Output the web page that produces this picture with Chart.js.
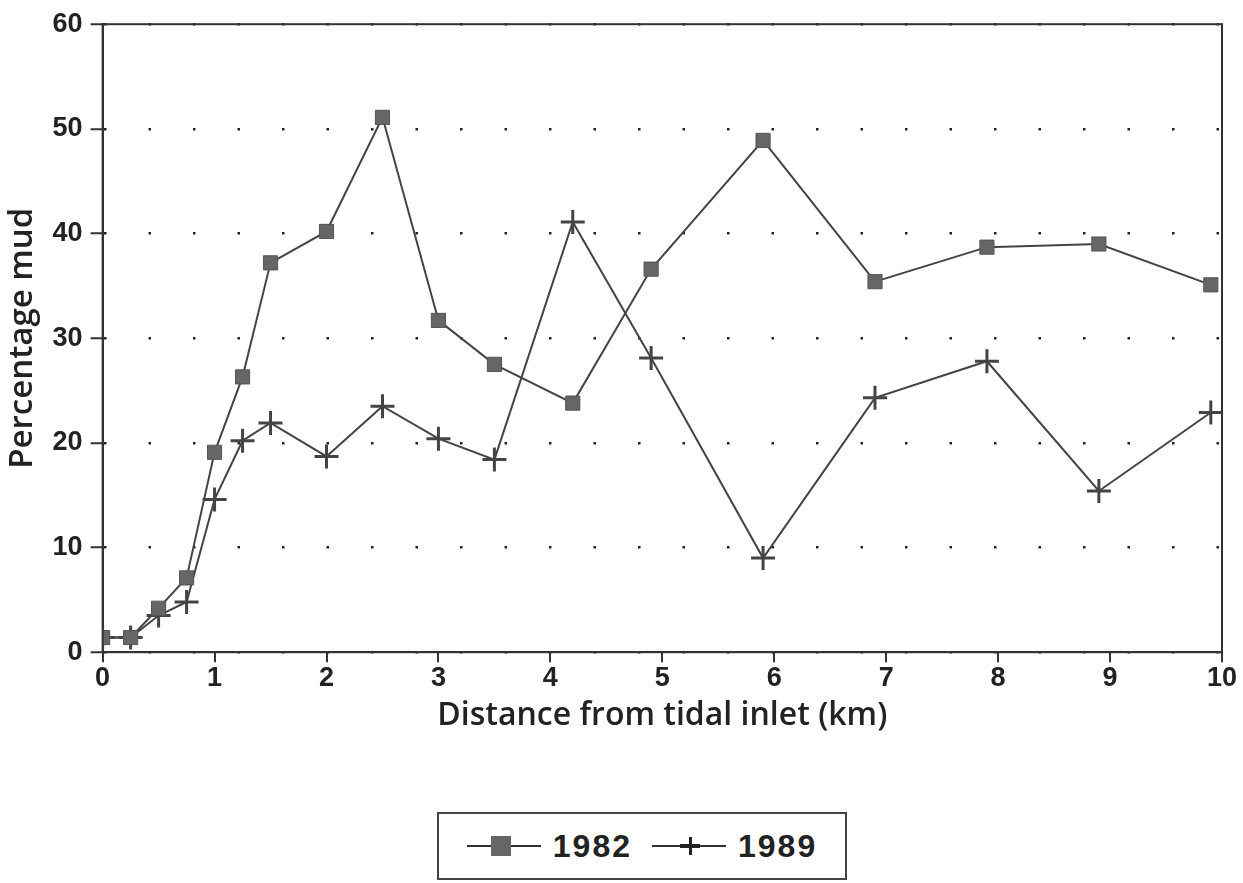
<!DOCTYPE html>
<html>
<head>
<meta charset="utf-8">
<script src="https://cdn.jsdelivr.net/npm/chart.js@4/dist/chart.umd.min.js"></script>
<style>
    html, body { margin: 0; padding: 0; background: #fff; }
    .wrap { position: absolute; left: 0; top: 0; width: 1243px; height: 735px; }
    .legend-box {
        position: absolute; left: 437px; top: 812px; width: 406px; height: 64px;
        border: 2px solid #444; display: flex; align-items: center; justify-content: center;
        font-family: "Liberation Sans", Arial, sans-serif; font-weight: bold; font-size: 32px; color: #222;
        letter-spacing: 2px;
    }
    .key { position: relative; display: inline-block; width: 74px; height: 24px; margin-right: 12px; }
    .key .ln { position: absolute; left: 0; right: 0; top: 11px; height: 2px; background: #333; }
    .key .sq { position: absolute; left: 24px; top: 2px; width: 20px; height: 20px; background: #666; }
    .key .pv { position: absolute; left: 37px; top: 3px; width: 3px; height: 18px; background: #222; }
    .key .ph { position: absolute; left: 28px; top: 10px; width: 20px; height: 4px; background: #222; }
    .gap { display: inline-block; width: 20px; }
</style>
</head>
<body>
<div class="wrap"><canvas id="mudChart"></canvas></div>
<div class="legend-box">
    <span class="key"><span class="ln"></span><span class="sq"></span></span><span>1982</span>
    <span class="gap"></span>
    <span class="key"><span class="ln"></span><span class="pv"></span><span class="ph"></span></span><span>1989</span>
</div>
<script>
// distance from tidal inlet (km)
const distances = [0, 0.25, 0.5, 0.75, 1.0, 1.25, 1.5, 2.0, 2.5, 3.0, 3.5, 4.2, 4.9, 5.9, 6.9, 7.9, 8.9, 9.9];
// percentage mud
const mud1982 = [1.4, 1.4, 4.2, 7.1, 19.1, 26.3, 37.2, 40.2, 51.1, 31.7, 27.5, 23.8, 36.6, 48.9, 35.4, 38.7, 39.0, 35.1];
const mud1989 = [1.4, 1.4, 3.5, 4.8, 14.6, 20.2, 21.9, 18.7, 23.5, 20.4, 18.4, 41.1, 28.1, 9.0, 24.3, 27.8, 15.4, 22.9];

const xTicks = [0, 1, 2, 3, 4, 5, 6, 7, 8, 9, 10];
const yTicks = [0, 10, 20, 30, 40, 50, 60];

function toPoints(xs, ys) {
    return xs.map((x, i) => ({ x: x, y: ys[i] }));
}

// solid frame around the plot area (top and right edges)
const framePlugin = {
    id: 'frame',
    afterDraw(chart) {
        const a = chart.chartArea;
        const c = chart.ctx;
        c.save();
        c.strokeStyle = '#333';
        c.lineWidth = 2;
        c.strokeRect(a.left, a.top, a.right - a.left, a.bottom - a.top);
        c.restore();
    }
};

const tickFont = { family: '"Liberation Sans", Arial, sans-serif', size: 27, weight: 'bold' };

const ctx = document.getElementById('mudChart').getContext('2d');
new Chart(ctx, {
    type: 'line',
    data: {
        datasets: [
            {
                label: '1982',
                data: toPoints(distances, mud1982),
                borderColor: '#444',
                borderWidth: 2,
                tension: 0,
                pointStyle: 'rect',
                pointRadius: 10,
                pointBackgroundColor: '#666',
                pointBorderColor: '#555',
                pointBorderWidth: 1
            },
            {
                label: '1989',
                data: toPoints(distances, mud1989),
                borderColor: '#444',
                borderWidth: 2,
                tension: 0,
                pointStyle: 'cross',
                pointRadius: 12,
                pointBorderColor: '#444',
                pointBorderWidth: 3
            }
        ]
    },
    options: {
        responsive: true,
        maintainAspectRatio: false,
        animation: false,
        layout: { padding: { left: 3, right: 21, top: 8, bottom: 0 } },
        plugins: {
            legend: { display: false },
            tooltip: { enabled: false }
        },
        scales: {
            x: {
                type: 'linear',
                min: 0,
                max: 10,
                afterBuildTicks: (axis) => { axis.ticks = xTicks.map(v => ({ value: v })); },
                ticks: { color: '#222', font: tickFont, padding: 0, maxRotation: 0 },
                grid: { drawOnChartArea: false, tickLength: 10, color: '#333', lineWidth: 2 },
                border: { color: '#333', width: 2 },
                title: {
                    display: true,
                    text: 'Distance from tidal inlet (km)',
                    color: '#222',
                    font: { family: '"Open Sans", sans-serif', size: 32, weight: '600' },
                    padding: { top: 2, bottom: 0 }
                }
            },
            y: {
                min: 0,
                max: 60,
                afterBuildTicks: (axis) => { axis.ticks = yTicks.map(v => ({ value: v })); },
                ticks: { color: '#222', font: tickFont, padding: 8 },
                grid: {
                    color: '#222',
                    lineWidth: 2.5,
                    tickLength: 12,
                    tickColor: '#333',
                    tickWidth: 2,
                    tickBorderDash: []
                },
                border: { color: '#333', width: 2, dash: [2.5, 42] },
                title: {
                    display: true,
                    text: 'Percentage mud',
                    color: '#222',
                    font: { family: '"Open Sans", sans-serif', size: 33, weight: '600' },
                    padding: { top: 0, bottom: 2 }
                }
            }
        }
    },
    plugins: [framePlugin]
});
</script>
</body>
</html>
